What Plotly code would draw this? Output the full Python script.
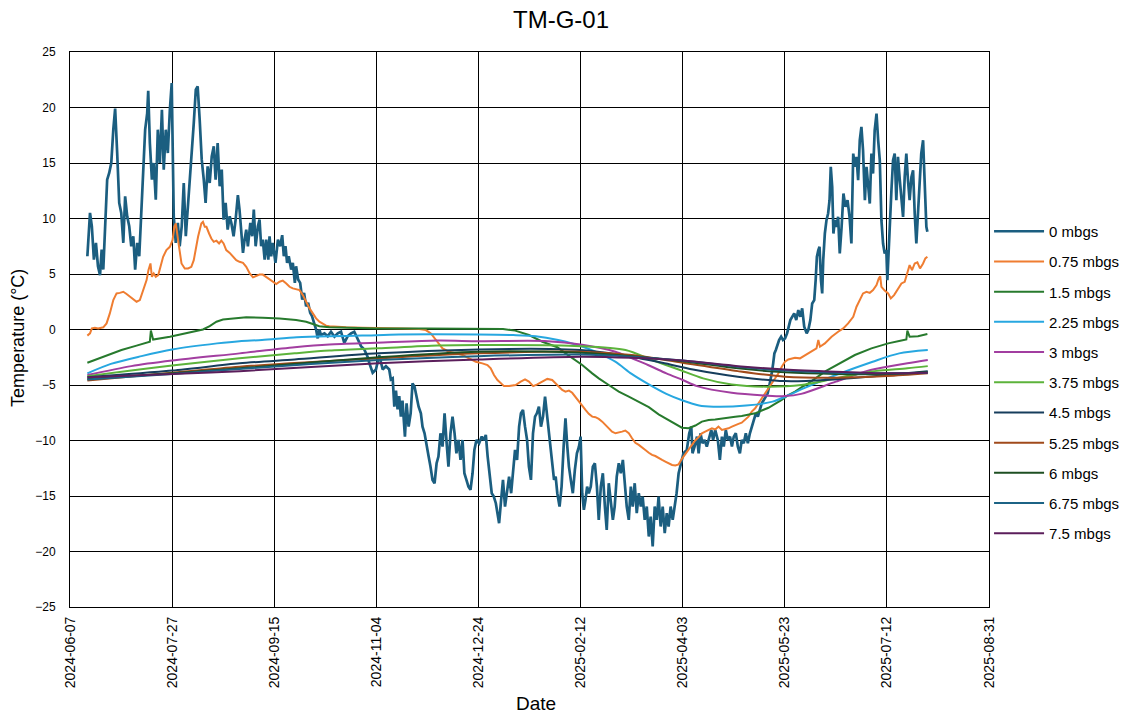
import pandas as pd
import plotly.graph_objects as go

BASE = pd.Timestamp("2024-06-07")

# ---------------- data: (day offset from 2024-06-07, temperature °C) ----------------
depth_labels = ["0 mbgs", "0.75 mbgs", "1.5 mbgs", "2.25 mbgs", "3 mbgs", "3.75 mbgs",
                "4.5 mbgs", "5.25 mbgs", "6 mbgs", "6.75 mbgs", "7.5 mbgs"]

series_0 = [
    (8.5, 6.6), (9.8, 10.5), (10.7, 9.3), (11.7, 6.3), (12.7, 7.8), (13.7, 5.7), (14.7, 4.9),
    (15.5, 7.2), (16.3, 5.4), (17.3, 10.5), (18.2, 13.5), (19.2, 14.1), (20.2, 15.0), (21.2, 18.0),
    (22.1, 19.9), (23.1, 15.9), (24.1, 11.4), (25.1, 10.5), (26.1, 7.8), (27.0, 12.0), (28.0, 10.2),
    (29.0, 9.3), (30.0, 7.5), (31.0, 8.4), (31.9, 5.4), (32.9, 7.8), (33.9, 6.6), (34.9, 10.5),
    (35.8, 14.4), (36.8, 18.0), (37.8, 19.5), (38.3, 21.5), (39.1, 16.8), (40.1, 13.5), (41.0, 15.0),
    (42.0, 11.7), (43.0, 18.0), (44.0, 15.0), (45.0, 19.8), (45.9, 14.4), (46.9, 18.0), (47.9, 15.9),
    (48.9, 19.8), (49.8, 22.2), (50.8, 10.2), (51.8, 7.8), (52.8, 9.6), (53.7, 7.5), (54.7, 9.3),
    (55.7, 13.2), (56.7, 8.4), (57.7, 10.8), (58.6, 13.5), (59.6, 15.9), (60.6, 18.6), (61.6, 21.6),
    (62.5, 21.9), (63.5, 18.9), (64.5, 15.3), (65.5, 13.5), (66.4, 11.4), (67.4, 14.7), (68.4, 13.2),
    (69.4, 15.6), (70.4, 16.5), (71.3, 13.5), (72.3, 16.8), (73.3, 12.9), (74.3, 14.4), (75.2, 9.9),
    (76.2, 11.4), (77.2, 9.0), (78.2, 10.2), (79.0, 9.6), (80.1, 8.4), (81.1, 9.9), (82.2, 12.1),
    (83.0, 10.8), (83.9, 9.0), (84.7, 6.9), (85.5, 8.1), (86.3, 9.0), (87.1, 7.5), (88.3, 9.6),
    (89.2, 8.4), (90.0, 10.8), (90.9, 7.5), (92.0, 9.3), (92.8, 9.9), (93.6, 7.5), (94.4, 8.1),
    (95.3, 6.3), (96.1, 8.1), (97.1, 6.3), (97.7, 8.4), (98.5, 6.6), (99.3, 7.8), (100.6, 6.0),
    (101.8, 8.1), (102.9, 7.5), (103.9, 8.5), (104.7, 6.6), (105.5, 7.5), (106.3, 6.0), (107.1, 6.6),
    (108.3, 5.4), (109.1, 6.0), (110.1, 4.2), (110.7, 5.7), (111.7, 4.5), (112.7, 4.2), (113.7, 2.7),
    (114.6, 3.3), (115.6, 2.1), (116.6, 2.4), (117.6, 1.5), (118.5, 1.2), (119.5, 0.6), (120.5, 0.0),
    (121.3, -0.8), (122.1, 0.0), (122.9, -0.5), (124.6, -0.35), (126.2, -0.6), (127.8, -0.2),
    (129.5, -0.65), (131.1, -0.35), (132.7, -0.2), (134.3, -1.2), (136.0, -0.6), (137.6, -0.35),
    (139.2, -0.2), (140.9, -0.95), (142.5, -1.5), (144.1, -1.8), (145.8, -2.5), (146.6, -3.05),
    (148.2, -3.9), (149.8, -3.6), (151.4, -2.3), (153.1, -3.6), (154.7, -3.3), (156.3, -3.6),
    (157.1, -4.5), (158.0, -4.4), (158.8, -6.95), (159.6, -5.5), (160.4, -7.2), (161.2, -6.0),
    (162.0, -7.85), (162.8, -6.4), (164.0, -9.65), (164.8, -6.65), (165.8, -8.75), (166.8, -7.55),
    (167.7, -4.85), (168.7, -5.15), (169.7, -6.05), (170.7, -6.95), (171.8, -7.55), (172.6, -8.75),
    (173.6, -9.35), (174.6, -10.25), (175.6, -11.45), (176.5, -12.35), (177.5, -13.55), (178.5, -13.85),
    (179.5, -12.05), (180.4, -11.45), (181.4, -9.35), (182.4, -10.55), (183.4, -7.55), (184.3, -9.95),
    (185.3, -12.35), (186.3, -9.35), (187.3, -7.85), (188.3, -9.35), (189.2, -11.15), (190.2, -9.95),
    (191.2, -11.75), (192.2, -9.95), (193.1, -12.95), (194.1, -13.55), (195.1, -14.15), (196.1, -14.45),
    (197.1, -12.95), (198.0, -10.85), (199.0, -9.95), (200.3, -10.25), (201.6, -9.65), (202.6, -9.95),
    (203.6, -9.5), (204.5, -11.45), (205.5, -12.95), (206.5, -14.75), (207.5, -15.05), (208.5, -15.65),
    (209.3, -16.55), (210.1, -17.45), (211.1, -15.35), (212.0, -13.55), (213.0, -15.95), (214.0, -14.75),
    (215.0, -13.25), (216.0, -14.75), (216.9, -12.95), (217.9, -10.85), (218.9, -11.75), (219.9, -8.75),
    (220.8, -7.55), (221.8, -7.25), (222.8, -8.75), (223.8, -9.95), (224.7, -12.35), (225.7, -13.55),
    (226.7, -9.35), (227.7, -7.85), (228.6, -7.55), (229.6, -6.95), (230.6, -8.75), (231.6, -7.85),
    (232.6, -6.05), (233.5, -7.55), (234.5, -9.5), (235.3, -10.55), (236.1, -11.75), (237.0, -13.55),
    (237.8, -13.25), (238.6, -14.75), (239.7, -15.95), (240.7, -14.15), (241.7, -10.55), (242.6, -8.0),
    (243.5, -10.55), (244.3, -12.35), (245.2, -13.55), (246.2, -14.75), (247.2, -12.65), (248.2, -11.15),
    (249.2, -10.55), (250.0, -9.65), (250.8, -14.75), (251.6, -16.25), (252.4, -15.35), (253.2, -14.15),
    (254.0, -14.75), (255.0, -14.15), (256.0, -12.35), (257.0, -12.05), (258.0, -14.15), (258.9, -17.15),
    (259.9, -14.15), (260.9, -12.95), (261.9, -15.95), (262.8, -18.05), (263.8, -13.85), (264.8, -15.35),
    (265.8, -17.15), (266.7, -15.95), (267.7, -13.25), (268.7, -12.05), (269.7, -12.95), (270.7, -11.75),
    (271.6, -13.55), (272.6, -15.95), (273.6, -17.15), (274.6, -14.15), (275.5, -15.95), (276.5, -13.85),
    (277.5, -16.55), (278.5, -14.75), (279.5, -15.95), (280.4, -15.05), (281.4, -17.15), (282.4, -15.95),
    (283.4, -18.65), (284.3, -16.85), (285.3, -19.55), (286.3, -15.95), (287.3, -17.15), (288.2, -15.05),
    (289.2, -17.75), (290.2, -15.95), (291.2, -18.35), (292.2, -16.55), (293.1, -17.75), (294.1, -15.95),
    (295.1, -17.15), (296.1, -15.95), (297.0, -14.75), (298.0, -12.95), (298.8, -12.35), (300.4, -11.15),
    (302.0, -10.85), (303.2, -9.35), (304.2, -8.75), (304.8, -11.15), (305.8, -10.55), (307.0, -9.65),
    (307.8, -11.15), (308.7, -9.35), (309.7, -10.25), (310.7, -9.95), (311.8, -10.55), (313.0, -9.65),
    (314.0, -9.05), (314.9, -9.95), (315.9, -9.05), (317.2, -9.95), (318.2, -11.75), (319.2, -9.65),
    (320.1, -10.55), (321.1, -9.05), (322.1, -9.95), (323.2, -9.65), (324.1, -10.55), (325.0, -9.65),
    (326.0, -9.35), (327.0, -10.55), (328.0, -11.15), (328.9, -9.95), (329.9, -10.25), (330.9, -9.35),
    (331.9, -10.25), (332.9, -9.35), (333.8, -8.75), (334.8, -8.15), (335.8, -7.55), (336.8, -7.85),
    (337.7, -7.25), (338.7, -6.65), (339.7, -6.35), (340.7, -6.05), (341.6, -5.75), (342.3, -5.15),
    (343.0, -4.55), (343.6, -3.95), (344.3, -3.05), (344.9, -2.15), (345.6, -1.85), (346.2, -1.55),
    (347.2, -0.95), (348.2, -0.65), (349.1, -0.95), (350.1, -0.8), (351.1, -0.35), (352.7, 0.85),
    (353.7, 1.15), (354.6, 1.45), (355.6, 0.85), (356.6, 1.75), (357.6, 1.15), (358.5, 1.9),
    (359.5, 0.25), (360.7, -0.35), (361.5, -0.05), (362.5, 0.85), (363.4, 2.35), (364.4, 2.65),
    (365.1, 4.45), (365.7, 6.55), (366.4, 7.15), (367.0, 7.45), (367.7, 4.45), (368.3, 3.25),
    (368.8, 6.25), (369.6, 8.65), (370.4, 9.85), (371.2, 10.45), (371.9, 11.65), (372.5, 14.65),
    (373.2, 12.85), (373.8, 8.65), (374.5, 9.85), (375.3, 9.25), (376.1, 10.15), (376.9, 6.85),
    (377.8, 9.25), (378.7, 12.25), (379.7, 11.05), (380.7, 11.65), (381.7, 10.15), (382.6, 7.75),
    (383.5, 15.85), (384.3, 14.65), (385.1, 15.55), (385.9, 13.45), (386.7, 17.05), (387.5, 18.25),
    (388.3, 16.15), (389.2, 11.65), (390.0, 14.65), (390.8, 13.15), (391.6, 11.35), (392.4, 15.85),
    (393.2, 14.05), (394.0, 17.95), (394.9, 19.45), (395.7, 17.05), (396.5, 15.25), (397.3, 9.85),
    (398.1, 7.75), (398.9, 6.85), (399.7, 7.15), (400.2, 4.45), (400.9, 7.75), (401.5, 9.85),
    (402.2, 12.55), (403.0, 15.25), (403.8, 15.85), (404.6, 11.65), (405.4, 15.55), (406.3, 13.45),
    (407.1, 11.65), (407.9, 10.15), (408.7, 13.75), (409.5, 15.85), (410.3, 13.45), (411.1, 11.65),
    (412.0, 13.75), (412.8, 14.35), (413.6, 10.45), (414.4, 7.75), (415.2, 10.45), (416.0, 13.15),
    (416.8, 15.85), (417.7, 17.05), (418.5, 13.15), (419.3, 9.25), (419.8, 8.8),
]

series_075 = [
    (8.5, -0.55), (9.8, -0.35), (10.7, 0.1), (12.2, 0.15), (13.8, 0.1), (16.3, 0.2), (17.9, 0.55),
    (19.5, 1.45), (21.2, 2.65), (22.8, 3.25), (24.4, 3.3), (26.1, 3.4), (27.7, 3.2), (29.3, 2.95),
    (30.9, 2.7), (32.6, 2.5), (34.2, 2.65), (35.8, 3.55), (37.5, 4.45), (38.4, 5.35), (39.4, 5.95),
    (40.1, 4.75), (41.0, 5.05), (42.0, 4.75), (43.2, 4.9), (44.3, 5.65), (45.6, 6.55), (47.2, 7.15),
    (48.9, 7.45), (50.2, 8.05), (51.1, 9.25), (51.8, 9.55), (52.4, 8.65), (53.4, 7.45), (54.6, 5.95),
    (56.2, 5.5), (57.8, 5.5), (59.4, 5.65), (60.6, 6.25), (61.6, 7.45), (62.7, 8.35), (64.3, 9.55),
    (65.1, 9.7), (66.0, 9.25), (66.8, 9.25), (68.1, 8.65), (69.2, 8.2), (70.4, 7.9), (71.7, 8.0),
    (73.0, 7.75), (74.1, 8.0), (75.2, 7.75), (76.5, 7.15), (78.2, 6.9), (79.8, 6.55), (81.4, 6.25),
    (83.0, 6.1), (84.7, 6.0), (86.3, 5.65), (88.0, 5.05), (89.6, 4.7), (91.2, 4.8), (92.8, 4.95),
    (94.4, 4.95), (96.1, 4.75), (97.7, 4.5), (99.3, 4.3), (101.0, 4.1), (102.6, 4.3), (104.2, 4.4),
    (105.9, 4.15), (107.5, 3.85), (109.1, 3.7), (110.7, 3.6), (112.4, 3.55), (114.0, 3.1), (115.6, 2.5),
    (117.3, 1.9), (118.9, 1.45), (120.5, 1.0), (122.1, 0.7), (123.8, 0.5), (125.4, 0.35), (127.0, 0.3),
    (130.3, 0.25), (135.2, 0.2), (143.3, 0.15), (150.6, 0.15), (162.8, 0.1), (171.0, 0.05),
    (174.2, -0.05), (176.7, -0.35), (179.1, -0.95), (180.8, -1.4), (182.4, -1.7), (185.6, -2.0),
    (188.9, -2.15), (192.2, -2.3), (195.4, -2.6), (198.7, -2.9), (201.9, -3.05), (204.4, -3.2),
    (206.0, -3.5), (207.6, -4.1), (209.3, -4.55), (210.9, -4.85), (212.5, -5.1), (215.0, -5.1),
    (218.2, -5.0), (220.7, -4.7), (222.8, -4.5), (224.7, -4.7), (226.8, -5.1), (228.8, -4.95),
    (231.3, -4.7), (233.7, -4.45), (236.1, -4.55), (237.0, -4.7), (239.4, -5.15), (241.0, -5.45),
    (242.6, -5.6), (244.3, -5.5), (245.9, -5.7), (247.5, -6.1), (249.2, -6.5), (250.8, -6.9),
    (252.4, -7.25), (254.0, -7.6), (255.7, -7.85), (257.3, -7.9), (258.9, -8.05), (260.6, -8.3),
    (262.2, -8.6), (263.8, -8.9), (265.4, -9.2), (267.1, -9.35), (268.7, -9.3), (270.3, -9.2),
    (271.9, -9.1), (273.6, -9.35), (275.2, -9.8), (276.8, -10.2), (278.5, -10.4), (280.1, -10.6),
    (281.7, -10.85), (283.4, -11.1), (285.0, -11.3), (286.6, -11.4), (288.2, -11.6), (289.9, -11.75),
    (291.5, -11.9), (293.1, -12.05), (294.8, -12.2), (296.4, -12.25), (298.0, -12.15), (299.6, -11.65),
    (301.3, -11.2), (302.9, -10.85), (304.5, -10.4), (306.1, -10.0), (307.8, -9.7), (309.4, -9.35),
    (311.0, -9.2), (312.7, -9.05), (314.3, -8.9), (315.9, -9.0), (317.5, -8.75), (319.2, -9.05),
    (320.8, -9.0), (322.4, -8.9), (324.1, -8.75), (325.7, -8.6), (327.3, -8.5), (328.9, -8.4),
    (330.6, -8.15), (332.2, -7.85), (333.8, -7.4), (335.5, -7.1), (337.1, -6.65), (338.7, -6.2),
    (340.3, -5.75), (342.0, -5.3), (343.6, -4.85), (345.2, -4.4), (346.9, -3.95), (348.5, -3.35),
    (350.1, -2.9), (351.7, -2.7), (353.4, -2.6), (355.0, -2.55), (357.4, -2.6), (361.5, -2.15),
    (365.5, -1.7), (366.4, -0.95), (367.2, -1.55), (369.6, -1.25), (372.9, -0.65), (376.1, -0.2),
    (378.6, 0.1), (381.0, 0.55), (383.5, 1.15), (385.1, 2.05), (386.7, 2.65), (388.3, 3.25),
    (390.0, 3.4), (391.6, 3.3), (393.2, 3.55), (394.9, 4.0), (396.0, 4.6), (396.7, 4.8), (397.3, 3.85),
    (398.9, 3.5), (400.6, 3.25), (401.9, 2.8), (403.5, 3.1), (405.4, 3.7), (407.1, 4.15), (408.7, 4.3),
    (410.0, 5.2), (411.1, 5.8), (412.3, 5.35), (413.6, 5.95), (414.9, 6.05), (416.2, 5.5),
    (417.7, 5.95), (418.8, 6.4), (419.8, 6.55),
]

series_15 = [
    (8.5, -3.0), (15.0, -2.55), (20.0, -2.2), (25.2, -1.85), (32.6, -1.45), (39.1, -1.1), (39.6, -0.1),
    (40.7, -0.9), (48.9, -0.65), (57.0, -0.35), (65.1, 0.0), (68.4, 0.3), (71.7, 0.7), (74.9, 0.9),
    (78.2, 0.95), (86.3, 1.1), (94.4, 1.05), (102.6, 1.0), (110.7, 0.85), (115.6, 0.7), (118.9, 0.5),
    (122.1, 0.3), (127.0, 0.2), (135.2, 0.15), (150.6, 0.1), (175.0, 0.1), (200.0, 0.1), (212.0, 0.05),
    (218.0, -0.1), (224.7, -0.5), (231.3, -1.1), (238.6, -1.6), (243.0, -2.2), (247.5, -2.75),
    (250.8, -3.2), (255.7, -3.95), (258.9, -4.4), (263.8, -5.0), (268.7, -5.6), (273.6, -6.05),
    (278.5, -6.5), (283.4, -7.0), (288.2, -7.65), (293.1, -8.2), (297.2, -8.65), (299.6, -8.85),
    (302.9, -8.9), (306.2, -8.65), (309.4, -8.3), (312.7, -8.15), (315.9, -8.1), (319.2, -8.0),
    (322.4, -7.9), (325.7, -7.85), (328.9, -7.8), (332.2, -7.7), (335.5, -7.55), (338.7, -7.3),
    (342.0, -7.05), (345.2, -6.7), (348.5, -6.35), (351.7, -5.9), (355.0, -5.6), (358.3, -5.2),
    (361.5, -4.85), (370.0, -3.75), (379.4, -2.75), (384.3, -2.3), (392.4, -1.7), (400.6, -1.25),
    (407.1, -1.0), (409.5, -0.9), (410.0, -0.1), (411.1, -0.65), (415.2, -0.6), (419.8, -0.4),
]

series_225 = [
    (8.5, -3.95), (20.0, -3.1), (35.0, -2.4), (50.0, -1.8), (72.0, -1.25), (83.0, -1.05), (94.0, -0.95),
    (111.0, -0.7), (127.0, -0.6), (143.0, -0.55), (161.0, -0.45), (200.0, -0.45), (217.0, -0.5),
    (228.0, -0.6), (239.0, -0.95), (251.0, -1.55), (259.0, -2.15), (267.0, -2.9), (275.0, -4.0),
    (283.0, -4.9), (292.0, -5.8), (300.0, -6.4), (308.0, -6.85), (315.0, -6.95), (331.0, -6.85),
    (344.0, -6.5), (352.0, -5.9), (358.0, -5.4), (375.0, -4.1), (393.0, -2.9), (406.0, -2.15),
    (420.0, -1.85),
]

series_3 = [
    (8.5, -4.1), (30.0, -3.3), (50.0, -2.8), (83.0, -2.15), (110.0, -1.6), (127.0, -1.35),
    (150.0, -1.2), (180.0, -1.0), (200.0, -1.05), (234.0, -1.05), (250.0, -1.35), (267.0, -2.0),
    (283.0, -3.2), (292.0, -3.95), (300.0, -4.55), (307.0, -5.1), (324.0, -5.7), (341.0, -5.95),
    (350.0, -6.0), (358.0, -5.8), (375.0, -4.7), (392.0, -3.65), (410.0, -3.05), (420.0, -2.75),
]

series_375 = [
    (8.5, -4.2), (30.0, -3.7), (50.0, -3.25), (83.0, -2.6), (110.0, -2.15), (127.0, -1.9),
    (151.0, -1.7), (180.0, -1.45), (200.0, -1.4), (250.0, -1.5), (272.0, -1.85), (285.0, -2.75),
    (298.0, -3.6), (310.0, -4.4), (324.0, -4.95), (341.0, -5.15), (358.0, -5.0), (375.0, -4.4),
    (392.0, -3.8), (410.0, -3.5), (420.0, -3.3),
]

series_45 = [
    (8.5, -4.3), (50.0, -3.7), (83.0, -3.05), (110.0, -2.7), (151.0, -2.15), (200.0, -1.8),
    (235.0, -1.75), (250.0, -1.85), (270.0, -2.3), (290.0, -3.0), (305.0, -3.6), (327.0, -4.25),
    (350.0, -4.65), (370.0, -4.55), (400.0, -4.1), (420.0, -3.75),
]

series_525 = [
    (8.5, -4.6), (50.0, -3.9), (83.0, -3.35), (151.0, -2.6), (200.0, -2.15), (250.0, -2.0),
    (275.0, -2.3), (300.0, -3.0), (327.0, -3.75), (350.0, -4.25), (375.0, -4.35), (400.0, -4.2),
    (420.0, -3.95),
]

series_6 = [
    (8.5, -4.45), (50.0, -3.95), (83.0, -3.5), (151.0, -2.5), (200.0, -2.0), (250.0, -2.1),
    (275.0, -2.4), (300.0, -2.85), (327.0, -3.5), (350.0, -3.85), (375.0, -4.0), (400.0, -4.0),
    (420.0, -3.85),
]

series_675 = [
    (8.5, -4.5), (50.0, -4.0), (83.0, -3.55), (151.0, -2.75), (200.0, -2.4), (250.0, -2.25),
    (275.0, -2.45), (300.0, -2.8), (327.0, -3.35), (350.0, -3.7), (375.0, -3.9), (400.0, -3.95),
    (420.0, -3.9),
]

series_75 = [
    (8.5, -4.3), (50.0, -4.0), (83.0, -3.75), (151.0, -3.05), (200.0, -2.7), (250.0, -2.45),
    (275.0, -2.55), (300.0, -2.8), (327.0, -3.3), (350.0, -3.6), (375.0, -3.8), (400.0, -3.95),
    (420.0, -3.9),
]

all_series = [series_0, series_075, series_15, series_225, series_3, series_375,
              series_45, series_525, series_6, series_675, series_75]

colors = ["#1b5e80", "#ef7d31", "#277a2d", "#27a7e0", "#a23ea0", "#5cb33b",
          "#163d5c", "#a04a1b", "#1e4f22", "#1c6385", "#5b1e5b"]
widths = [2.7, 2.0, 2.0, 2.0, 2.0, 2.0, 2.0, 2.0, 2.0, 2.0, 2.0]

x_ticks_start = "2024-06-07"
x_range_end = "2025-08-31"

FONT = "Liberation Sans, Arial, sans-serif"

fig = go.Figure()
for i, (name, data) in enumerate(zip(depth_labels, all_series)):
    days = [d for d, _ in data]
    temps = [t for _, t in data]
    dates = BASE + pd.to_timedelta(days, unit="D")
    fig.add_trace(go.Scatter(
        x=dates, y=temps, mode="lines", name=name, legendgroup=name,
        line=dict(color=colors[i], width=widths[i],
                  shape="linear" if i < 3 else "spline", smoothing=0.8 if i >= 3 else None),
    ))

fig.update_layout(
    width=1127, height=717,
    margin=dict(l=70, r=136, t=52, b=110),
    paper_bgcolor="white", plot_bgcolor="white",
    font=dict(family=FONT, color="black", size=12),
    title=dict(text="TM-G-01", x=0.4978, xref="container", xanchor="center",
               y=0.972, yref="container", yanchor="middle",
               font=dict(size=24, family=FONT, color="black")),
    legend=dict(x=0.8776, xref="container", xanchor="left", y=0.4045, yanchor="middle",
                font=dict(size=15, family=FONT, color="black"),
                tracegroupgap=7.7, itemwidth=50, bgcolor="rgba(0,0,0,0)"),
    showlegend=True,
    annotations=[
        dict(text="Temperature (°C)", xref="paper", yref="paper", x=-0.0565, y=0.485,
             xanchor="center", yanchor="middle", textangle=-90, showarrow=False,
             font=dict(size=18, family=FONT, color="black")),
        dict(text="Date", xref="paper", yref="paper", x=0.507, y=-0.173,
             xanchor="center", yanchor="middle", showarrow=False,
             font=dict(size=19, family=FONT, color="black")),
    ],
)

fig.update_xaxes(
    type="date", automargin=False,
    range=[x_ticks_start, x_range_end],
    tick0=x_ticks_start, dtick=50 * 86400000,
    tickformat="%Y-%m-%d", tickangle=-90,
    showgrid=True, gridcolor="black", gridwidth=1,
    showline=True, linecolor="black", linewidth=1, mirror=True,
    ticks="", zeroline=False, ticklabelstandoff=3,
    tickfont=dict(size=14, family=FONT, color="black"),
)
fig.update_yaxes(
    automargin=False,
    range=[-25, 25], dtick=5, tick0=0,
    showgrid=True, gridcolor="black", gridwidth=1,
    showline=True, linecolor="black", linewidth=1, mirror=True,
    zeroline=False, ticks="", ticklabelstandoff=11,
    tickfont=dict(size=12, family=FONT, color="black"),
)

# remove the default 8px page margin so the figure sits at the window's top-left corner
fig.write_html("out.html", config={"displayModeBar": False},
               post_script="document.body.style.margin='0';")
